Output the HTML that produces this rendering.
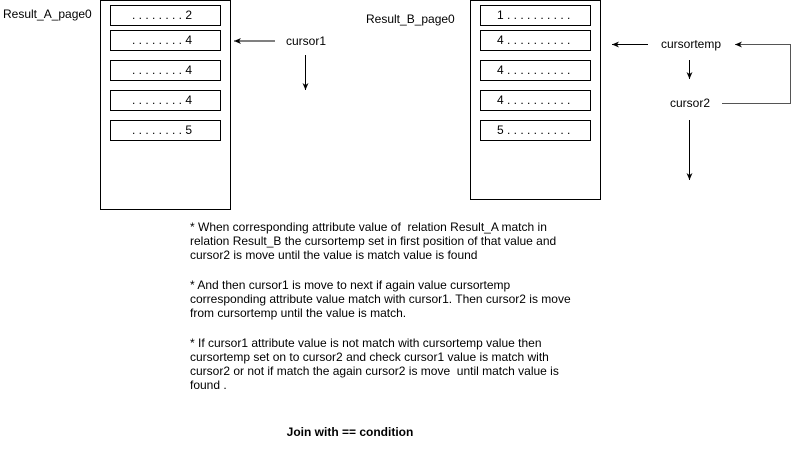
<!DOCTYPE html>
<html><head><meta charset="utf-8"><style>
html,body{margin:0;padding:0;background:#fff;}
svg{display:block;font-family:"Liberation Sans",sans-serif;}
text{white-space:pre;}
</style></head><body>
<svg width="799" height="449" viewBox="0 0 799 449" xmlns="http://www.w3.org/2000/svg">
<defs><marker id="a" markerWidth="8" markerHeight="8" refX="7" refY="4" orient="auto" markerUnits="userSpaceOnUse"><path d="M0,1 L7,4 L0,7 L2,4 Z" fill="#000"/></marker></defs>
<g font-size="12" fill="#000">
<text x="3" y="18">Result_A_page0</text>
<text x="366" y="23">Result_B_page0</text>
</g>
<g fill="#fff" stroke="#000" stroke-width="1">
<rect x="100.5" y="0.5" width="130" height="209"/>
<rect x="110.5" y="5.5" width="110" height="20"/>
<rect x="110.5" y="30.5" width="110" height="20"/>
<rect x="110.5" y="60.5" width="110" height="20"/>
<rect x="110.5" y="90.5" width="110" height="20"/>
<rect x="110.5" y="120.5" width="110" height="20"/>
<rect x="470.5" y="0.5" width="130" height="199"/>
<rect x="480.5" y="5.5" width="110" height="20"/>
<rect x="480.5" y="30.5" width="110" height="20"/>
<rect x="480.5" y="60.5" width="110" height="20"/>
<rect x="480.5" y="90.5" width="110" height="20"/>
<rect x="480.5" y="120.5" width="110" height="20"/>
</g>
<g font-size="12" fill="#000">
<text x="132" y="19">. . . . . . . . 2</text>
<text x="132" y="44">. . . . . . . . 4</text>
<text x="132" y="74">. . . . . . . . 4</text>
<text x="132" y="104">. . . . . . . . 4</text>
<text x="132" y="134">. . . . . . . . 5</text>
<text x="497" y="19">1 . . . . . . . . . .</text>
<text x="497" y="44">4 . . . . . . . . . .</text>
<text x="497" y="74">4 . . . . . . . . . .</text>
<text x="497" y="104">4 . . . . . . . . . .</text>
<text x="497" y="134">5 . . . . . . . . . .</text>
<text x="286" y="45">cursor1</text>
<text x="661" y="48">cursortemp</text>
<text x="670" y="107">cursor2</text>
</g>
<g stroke="#000" stroke-width="1" fill="none">
<line x1="275" y1="41" x2="234" y2="41" marker-end="url(#a)"/>
<line x1="305.5" y1="55" x2="305.5" y2="90" marker-end="url(#a)"/>
<line x1="648" y1="44.5" x2="612" y2="44.5" marker-end="url(#a)"/>
<line x1="689.5" y1="60" x2="689.5" y2="79" marker-end="url(#a)"/>
<line x1="689.5" y1="120" x2="689.5" y2="180" marker-end="url(#a)"/>
<polyline points="722,103.5 790.5,103.5 790.5,44.5 735,44.5" stroke="#555" marker-end="url(#a)"/>
</g>
<g font-size="12" fill="#000">
<text x="190" y="231">* When corresponding attribute value of  relation Result_A match in</text>
<text x="190" y="245">relation Result_B the cursortemp set in first position of that value and</text>
<text x="190" y="259">cursor2 is move until the value is match value is found</text>
<text x="190" y="289">* And then cursor1 is move to next if again value cursortemp</text>
<text x="190" y="303">corresponding attribute value match with cursor1. Then cursor2 is move</text>
<text x="190" y="317">from cursortemp until the value is match.</text>
<text x="190" y="347">* If cursor1 attribute value is not match with cursortemp value then</text>
<text x="190" y="361">cursortemp set on to cursor2 and check cursor1 value is match with</text>
<text x="190" y="375">cursor2 or not if match the again cursor2 is move  until match value is</text>
<text x="190" y="389">found .</text>
<text x="350" y="436" font-weight="bold" text-anchor="middle">Join with == condition</text>
</g>
</svg>
</body></html>
